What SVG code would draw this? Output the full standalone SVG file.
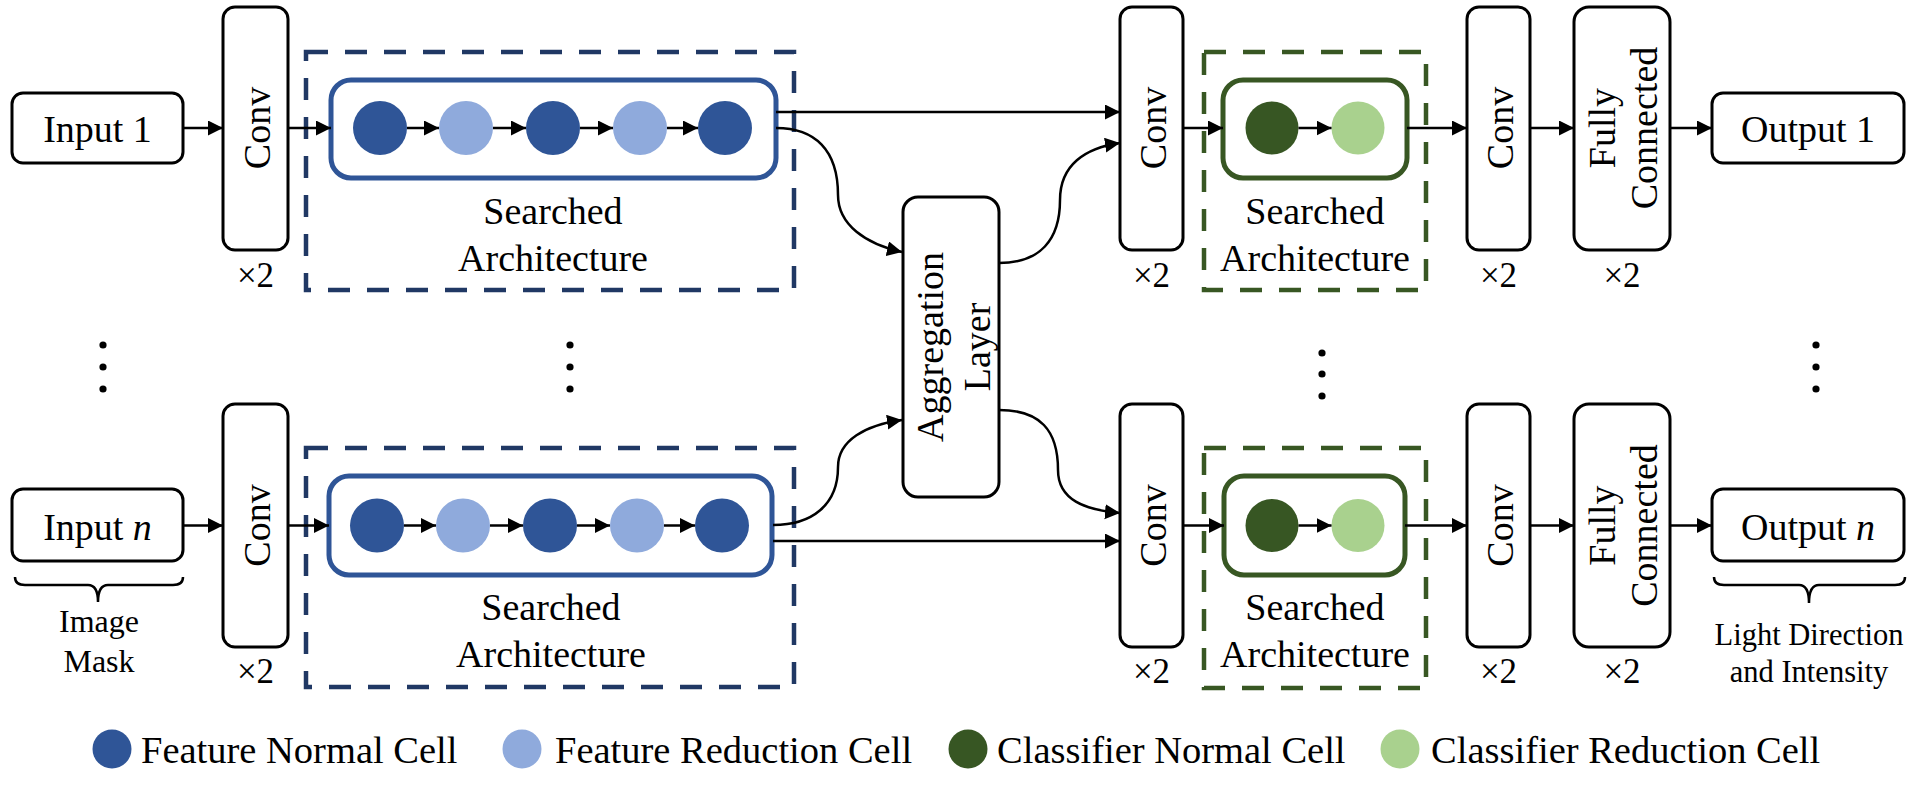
<svg xmlns="http://www.w3.org/2000/svg" width="1922" height="788" viewBox="0 0 1922 788">
<defs>
<marker id="ah" markerWidth="16" markerHeight="16" refX="15" refY="7.5" orient="auto" markerUnits="userSpaceOnUse"><path d="M0,0 L15,7.5 L0,15 z" fill="#000"/></marker>
<style>
text{font-family:"Liberation Serif","Times New Roman",serif;fill:#000}
.t{font-size:38px;text-anchor:middle}
.s{font-size:32px;text-anchor:middle}
.x{font-size:35px;text-anchor:middle}
.lg{font-size:38.5px}
.box{fill:#fff;stroke:#000;stroke-width:3}
.ln{fill:none;stroke:#000;stroke-width:2.5;marker-end:url(#ah)}
.br{fill:none;stroke:#000;stroke-width:2.5}
.dashB{fill:none;stroke:#203864;stroke-width:4.5;stroke-dasharray:22 17}
.dashG{fill:none;stroke:#385723;stroke-width:4.5;stroke-dasharray:22 17}
.inB{fill:#fff;stroke:#2f5597;stroke-width:5}
.inG{fill:#fff;stroke:#385723;stroke-width:5}
.fn{fill:#2f5597}.fr{fill:#8faadc}.cn{fill:#375623}.cr{fill:#a9d18e}
.dot{fill:#000}
</style>
</defs>
<rect width="1922" height="788" fill="#fff"/>

<!-- row 1 -->
<g id="input1">
<rect class="box" x="12" y="93" width="171" height="70" rx="11"/>
<text class="t" x="97.5" y="142">Input 1</text>
</g>
<g id="conv1a">
<rect class="box" x="223" y="7" width="65" height="243" rx="12"/>
<text class="t" transform="translate(255.5,128) rotate(-90)" x="0" y="14">Conv</text>
<text class="x" x="255.5" y="287">×2</text>
</g>
<g id="search1a">
<rect class="dashB" x="306" y="52" width="488" height="238"/>
<rect class="inB" x="331" y="80" width="445" height="98" rx="20"/>
<circle class="fn" cx="380" cy="128" r="27"/>
<circle class="fr" cx="466" cy="128" r="27"/>
<circle class="fn" cx="553" cy="128" r="27"/>
<circle class="fr" cx="640" cy="128" r="27"/>
<circle class="fn" cx="725" cy="128" r="27"/>
<text class="t" x="553" y="224">Searched</text>
<text class="t" x="553" y="271">Architecture</text>
</g>
<g id="aggregation">
<rect class="box" x="903" y="197" width="96" height="300" rx="15"/>
<text class="t" transform="translate(951,347) rotate(-90)" x="0" y="-8">Aggregation</text>
<text class="t" transform="translate(951,347) rotate(-90)" x="0" y="39">Layer</text>
</g>
<g id="conv2a">
<rect class="box" x="1120" y="7" width="63" height="243" rx="12"/>
<text class="t" transform="translate(1151.5,128) rotate(-90)" x="0" y="14">Conv</text>
<text class="x" x="1151.5" y="287">×2</text>
</g>
<g id="search2a">
<rect class="dashG" x="1204" y="52" width="222" height="238"/>
<rect class="inG" x="1223" y="80" width="184" height="98" rx="20"/>
<circle class="cn" cx="1272" cy="128" r="26.5"/>
<circle class="cr" cx="1358" cy="128" r="26.5"/>
<text class="t" x="1315" y="224">Searched</text>
<text class="t" x="1315" y="271">Architecture</text>
</g>
<g id="conv3a">
<rect class="box" x="1467" y="7" width="63" height="243" rx="12"/>
<text class="t" transform="translate(1498.5,128) rotate(-90)" x="0" y="14">Conv</text>
<text class="x" x="1498.5" y="287">×2</text>
</g>
<g id="fc1">
<rect class="box" x="1574" y="7" width="96" height="243" rx="15"/>
<text class="t" transform="translate(1622,128) rotate(-90)" x="0" y="-7">Fully</text>
<text class="t" transform="translate(1622,128) rotate(-90)" x="0" y="35">Connected</text>
<text class="x" x="1622" y="287">×2</text>
</g>
<g id="output1">
<rect class="box" x="1712" y="93" width="192" height="70" rx="11"/>
<text class="t" x="1808" y="142">Output 1</text>
</g>

<!-- ellipsis dots -->
<g id="dots">
<circle class="dot" cx="103" cy="345" r="3.6"/><circle class="dot" cx="103" cy="367" r="3.6"/><circle class="dot" cx="103" cy="389" r="3.6"/>
<circle class="dot" cx="570" cy="345" r="3.6"/><circle class="dot" cx="570" cy="367" r="3.6"/><circle class="dot" cx="570" cy="389" r="3.6"/>
<circle class="dot" cx="1322" cy="353" r="3.6"/><circle class="dot" cx="1322" cy="374" r="3.6"/><circle class="dot" cx="1322" cy="396" r="3.6"/>
<circle class="dot" cx="1816" cy="345" r="3.6"/><circle class="dot" cx="1816" cy="367" r="3.6"/><circle class="dot" cx="1816" cy="389" r="3.6"/>
</g>

<!-- row n -->
<g id="inputn">
<rect class="box" x="12" y="489" width="171" height="72" rx="11"/>
<text class="t" x="97.5" y="540">Input <tspan font-style="italic">n</tspan></text>
<path class="br" d="M15,577 Q15,585 25,585 L88,585 Q98,585 98,602 Q98,585 108,585 L173,585 Q183,585 183,577"/>
<text class="s" x="99" y="632">Image</text>
<text class="s" x="99" y="672">Mask</text>
</g>
<g id="conv1b">
<rect class="box" x="223" y="404" width="65" height="243" rx="12"/>
<text class="t" transform="translate(255.5,525.5) rotate(-90)" x="0" y="14">Conv</text>
<text class="x" x="255.5" y="683">×2</text>
</g>
<g id="search1b">
<rect class="dashB" x="306" y="448" width="488" height="239"/>
<rect class="inB" x="329" y="476" width="443" height="99" rx="20"/>
<circle class="fn" cx="377" cy="525.5" r="27"/>
<circle class="fr" cx="463" cy="525.5" r="27"/>
<circle class="fn" cx="550" cy="525.5" r="27"/>
<circle class="fr" cx="637" cy="525.5" r="27"/>
<circle class="fn" cx="722" cy="525.5" r="27"/>
<text class="t" x="551" y="620">Searched</text>
<text class="t" x="551" y="667">Architecture</text>
</g>
<g id="conv2b">
<rect class="box" x="1120" y="404" width="63" height="243" rx="12"/>
<text class="t" transform="translate(1151.5,525.5) rotate(-90)" x="0" y="14">Conv</text>
<text class="x" x="1151.5" y="683">×2</text>
</g>
<g id="search2b">
<rect class="dashG" x="1204" y="448" width="222" height="240"/>
<rect class="inG" x="1224" y="476" width="181" height="99" rx="20"/>
<circle class="cn" cx="1272" cy="525.5" r="26.5"/>
<circle class="cr" cx="1358" cy="525.5" r="26.5"/>
<text class="t" x="1315" y="620">Searched</text>
<text class="t" x="1315" y="667">Architecture</text>
</g>
<g id="conv3b">
<rect class="box" x="1467" y="404" width="63" height="243" rx="12"/>
<text class="t" transform="translate(1498.5,525.5) rotate(-90)" x="0" y="14">Conv</text>
<text class="x" x="1498.5" y="683">×2</text>
</g>
<g id="fcn">
<rect class="box" x="1574" y="404" width="96" height="243" rx="15"/>
<text class="t" transform="translate(1622,525.5) rotate(-90)" x="0" y="-7">Fully</text>
<text class="t" transform="translate(1622,525.5) rotate(-90)" x="0" y="35">Connected</text>
<text class="x" x="1622" y="683">×2</text>
</g>
<g id="outputn">
<rect class="box" x="1712" y="489" width="192" height="72" rx="11"/>
<text class="t" x="1808" y="540">Output <tspan font-style="italic">n</tspan></text>
<path class="br" d="M1714,577 Q1714,585 1724,585 L1799,585 Q1809,585 1809,603 Q1809,585 1819,585 L1895,585 Q1905,585 1905,577"/>
<text class="s" x="1809" y="645" style="font-size:30.5px">Light Direction</text>
<text class="s" x="1809" y="682" style="font-size:30.5px">and Intensity</text>
</g>

<!-- legend -->
<g id="legend">
<circle class="fn" cx="112" cy="749" r="19.5"/>
<text class="lg" x="141" y="763">Feature Normal Cell</text>
<circle class="fr" cx="522" cy="749" r="19.5"/>
<text class="lg" x="555" y="763">Feature Reduction Cell</text>
<circle class="cn" cx="968" cy="749" r="19.5"/>
<text class="lg" x="997" y="763">Classifier Normal Cell</text>
<circle class="cr" cx="1400" cy="749" r="19.5"/>
<text class="lg" x="1431" y="763">Classifier Reduction Cell</text>
</g>

<!-- connectors -->
<g id="connectors">
<line class="ln" x1="183" y1="128" x2="223" y2="128"/>
<line class="ln" x1="288" y1="128" x2="331" y2="128"/>
<line class="ln" x1="407" y1="128" x2="439" y2="128"/>
<line class="ln" x1="493" y1="128" x2="526" y2="128"/>
<line class="ln" x1="580" y1="128" x2="613" y2="128"/>
<line class="ln" x1="667" y1="128" x2="698" y2="128"/>
<line class="ln" x1="776" y1="112" x2="1120" y2="112"/>
<path class="ln" d="M776,128 C815,128 838,150 838,195 C838,225 866,244 902,252"/>
<path class="ln" d="M773,525 C812,525 838,505 838,467 C838,440 866,425 902,420"/>
<line class="ln" x1="773" y1="541" x2="1120" y2="541"/>
<path class="ln" d="M999,263 C1040,263 1060,240 1060,200 C1060,165 1085,148 1120,143"/>
<path class="ln" d="M999,410 C1040,410 1058,430 1058,470 C1058,500 1085,510 1120,513"/>
<line class="ln" x1="1183" y1="128" x2="1223" y2="128"/>
<line class="ln" x1="1298.5" y1="128" x2="1331.5" y2="128"/>
<line class="ln" x1="1407" y1="128" x2="1467" y2="128"/>
<line class="ln" x1="1530" y1="128" x2="1574" y2="128"/>
<line class="ln" x1="1670" y1="128" x2="1712" y2="128"/>

<line class="ln" x1="183" y1="525.5" x2="223" y2="525.5"/>
<line class="ln" x1="288" y1="525.5" x2="329" y2="525.5"/>
<line class="ln" x1="404" y1="525.5" x2="436" y2="525.5"/>
<line class="ln" x1="490" y1="525.5" x2="523" y2="525.5"/>
<line class="ln" x1="577" y1="525.5" x2="610" y2="525.5"/>
<line class="ln" x1="664" y1="525.5" x2="695" y2="525.5"/>
<line class="ln" x1="1183" y1="525.5" x2="1224" y2="525.5"/>
<line class="ln" x1="1298.5" y1="525.5" x2="1331.5" y2="525.5"/>
<line class="ln" x1="1405" y1="525.5" x2="1467" y2="525.5"/>
<line class="ln" x1="1530" y1="525.5" x2="1574" y2="525.5"/>
<line class="ln" x1="1670" y1="525.5" x2="1712" y2="525.5"/>
</g>
</svg>
